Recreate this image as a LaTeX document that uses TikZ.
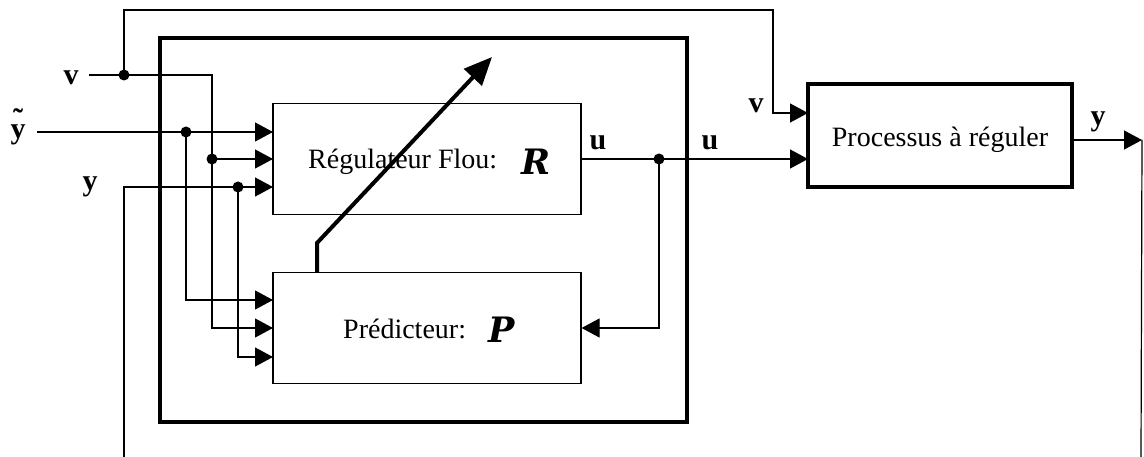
\documentclass[tikz,border=0pt]{standalone}
\usepackage{fontspec}
\setmainfont{Liberation Serif}
\newfontfamily\letterfont{DejaVu Serif}
\usetikzlibrary{arrows.meta}

\begin{document}
\begin{tikzpicture}[x=1pt,y=-1pt,
  wire/.style={line width=1.2pt},
  feed/.style={wire,-{Triangle[length=18pt,width=19pt]}},
  heavy/.style={line width=4pt},
  block/.style={draw,line width=1.2pt,minimum width=308pt,minimum height=111pt,inner sep=0pt},
  txt/.style={font=\fontsize{28}{32}\selectfont,inner sep=0pt},
  sig/.style={font=\fontsize{30}{32}\selectfont\bfseries,inner sep=0pt},
  big/.style={font=\fontsize{35}{38}\selectfont\letterfont\bfseries\itshape,inner sep=0pt},
  junction/.style={circle,fill,inner sep=0pt,minimum size=11pt}]

\useasboundingbox (0,0) rectangle (1144,457);

% controller frame and blocks
\node[draw,heavy,minimum width=527pt,minimum height=384pt,inner sep=0pt] (ctrl) at (423,230) {};
\node[block] (reg) at (427,159) {};
\node[block] (pred) at (427,328) {};
\node[block,line width=4pt,minimum width=264pt,minimum height=103pt] (proc) at (940,135.5) {};

% block texts
\node[txt,anchor=base west] (regtxt) at (308,169) {Régulateur Flou:};
\node[big,anchor=base west] (regsym) at (521,175) {R};
\node[txt,anchor=base west] (predtxt) at (343,338) {Prédicteur:};
\node[big,anchor=base west] (predsym) at (488,342) {P};
\node[txt,anchor=base] (proctxt) at (940,147) {Processus à réguler};

% signal labels (the tilde of the reference signal sits high above its y)
\node[sig,anchor=base] (lv) at (71,85) {v};
\node[sig,anchor=base] (lyt) at (18,139) {\makebox[0pt][l]{\hspace{2.5pt}\raisebox{9pt}{˜}}y};
\node[sig,anchor=base] (ly) at (90,191) {y};
\node[sig,anchor=base] (lu1) at (598,150) {u};
\node[sig,anchor=base] (lu2) at (710,150) {u};
\node[sig,anchor=base] (lv2) at (756,113) {v};
\node[sig,anchor=base] (ly2) at (1098,126) {y};

% ports and bends
\coordinate (vin) at (89,75);
\coordinate (tv) at (212,75);
\coordinate (ytin) at (37,132);
\coordinate (yfb) at (124,457);
\coordinate (r1) at (273,132);
\coordinate (r2) at (273,159);
\coordinate (r3) at (273,187);
\coordinate (p1) at (273,300);
\coordinate (p2) at (273,328);
\coordinate (p3) at (273,357);
\coordinate (tw) at (773,10);
\coordinate (pv) at (808,113);
\coordinate (pu) at (808,159);
\coordinate (po) at (1072,140);
\coordinate (yend) at (1142,140);
\coordinate (ybot) at (1141,457);
\coordinate (pa) at (317,272);
\coordinate (pb) at (317,243);
\coordinate (pc) at (492,57);

% junction dots
\node[junction] (jv) at (124,75) {};
\node[junction] (jyt) at (186,132) {};
\node[junction] (jv2) at (212,159) {};
\node[junction] (jy2) at (238,187) {};
\node[junction] (ju) at (659,159) {};

% wiring
\draw[feed] (vin) -- (tv) |- (p2);
\draw[feed] (jv2.center) -- (r2);
\draw[feed] (jv.center) |- (tw) |- (pv);
\draw[feed] (ytin) -- (r1);
\draw[feed] (jyt.center) |- (p1);
\draw[feed] (yfb) |- (r3);
\draw[feed] (jy2.center) |- (p3);
\draw[feed] (reg.east) -- (pu);
\draw[feed] (ju.center) |- (pred.east);
\draw[feed] (po) -- (yend);
\draw[wire] (yend) -- (ybot);

% adaptation arrow
\draw[heavy,-{Triangle[length=28pt,width=24pt]}] (pa) -- (pb) -- (pc);
\end{tikzpicture}
\end{document}
